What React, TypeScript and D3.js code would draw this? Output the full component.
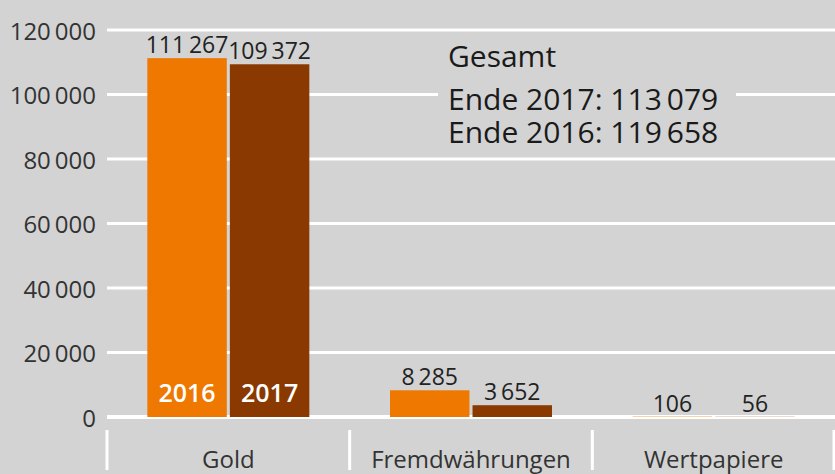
import React from "react";
import * as d3 from "d3";

const categories = ["Gold", "Fremdwährungen", "Wertpapiere"];
const years = ["2016", "2017"];
const values2016 = [111267, 8285, 106];
const values2017 = [109372, 3652, 56];
const yTicks = [0, 20000, 40000, 60000, 80000, 100000, 120000];
const totalTitle = "Gesamt";
const totalLines = ["Ende 2017: 113\u2009079", "Ende 2016: 119\u2009658"];

const W = 835;
const H = 474;
const BG = "#d3d3d3";
const COLORS = ["#ef7800", "#8a3a00"];
const FONT = "'Open Sans', 'Noto Sans', sans-serif";

const fmt = (v: number) => d3.format(",")(v).replace(/,/g, "\u2009");

export default function App() {
  const y = d3.scaleLinear().domain([0, 120000]).range([417, 30]);
  const x0 = d3.scaleBand<string>().domain(categories).range([107, 835]).paddingInner(0);
  const x1 = d3.scaleBand<string>().domain(years).range([0, 162]).paddingInner(0.037);
  const offset = (x0.bandwidth() - 162) / 2;
  const bw = x1.bandwidth();

  const series = [values2016, values2017];
  const bars = categories.flatMap((c, ci) =>
    years.map((yr, si) => {
      const v = series[si][ci];
      const bx = (x0(c) as number) + offset + (x1(yr) as number);
      return { c, ci, yr, si, v, bx, label: fmt(v) };
    })
  );

  return (
    <div style={{ position: "fixed", left: 0, top: 0 }}>
      <svg width={W} height={H} style={{ display: "block", fontFamily: FONT }}>
        <rect x={0} y={0} width={W} height={H} fill={BG} />
        {yTicks.map((t) => (
          <g key={t}>
            <line
              x1={107}
              x2={W}
              y1={y(t)}
              y2={y(t)}
              stroke="#ffffff"
              strokeWidth={t === 0 ? 4 : 3}
            />
            <text
              x={96}
              y={y(t)}
              textAnchor="end"
              dominantBaseline="central"
              fontSize={24}
              fill="#333"
            >
              {fmt(t)}
            </text>
          </g>
        ))}
        {/* annotation box */}
        <rect x={438} y={36} width={298} height={116} fill={BG} />
        <text x={448} y={67} fontSize={30} fill="#1a1a1a">{totalTitle}</text>
        {totalLines.map((l, i) => (
          <text key={i} x={448} y={110 + i * 33} fontSize={30} fill="#1a1a1a">{l}</text>
        ))}
        {/* category separators */}
        {[...categories.map((c) => x0(c) as number), 834].map((sx, i) => (
          <line key={i} x1={sx} x2={sx} y1={430} y2={470} stroke="#ffffff" strokeWidth={3} />
        ))}
        {categories.map((c) => (
          <text
            key={c}
            x={(x0(c) as number) + x0.bandwidth() / 2}
            y={468}
            textAnchor="middle"
            fontSize={24}
            fill="#333"
          >
            {c}
          </text>
        ))}
        {/* label backgrounds (only where they cover gridlines) */}
        {bars.map((b) => {
          const lw = b.label.length * 12.5;
          return (
            <rect
              key={"bg" + b.c + b.yr}
              x={b.bx + bw / 2 - lw / 2}
              y={y(b.v) - 24}
              width={lw}
              height={18}
              fill={BG}
            />
          );
        })}
        {bars.map((b) => (
          <rect
            key={"bar" + b.c + b.yr}
            x={b.bx}
            y={y(b.v)}
            width={bw}
            height={y(0) - y(b.v)}
            fill={COLORS[b.si]}
          />
        ))}
        {bars.map((b) => (
          <text
            key={"lbl" + b.c + b.yr}
            x={b.bx + bw / 2}
            y={y(b.v) - 5}
            textAnchor="middle"
            fontSize={23}
            fill="#222"
          >
            {b.label}
          </text>
        ))}
        {bars
          .filter((b) => b.ci === 0)
          .map((b) => (
            <text
              key={"yr" + b.yr}
              x={b.bx + bw / 2}
              y={402}
              textAnchor="middle"
              fontSize={25}
              fontWeight={600}
              fill="#ffffff"
            >
              {b.yr}
            </text>
          ))}
      </svg>
    </div>
  );
}
